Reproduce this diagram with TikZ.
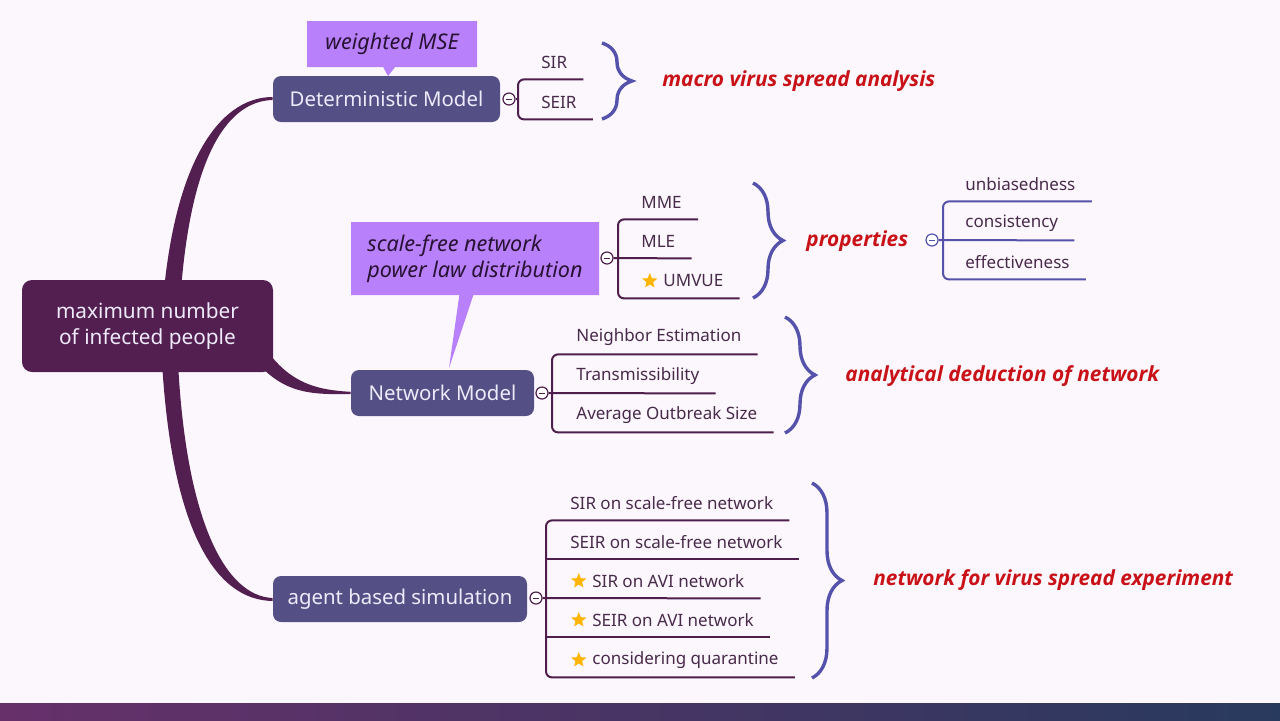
\documentclass[tikz,border=0pt]{standalone}
\usepackage{fontspec}
\setmainfont{Noto Sans}
\newfontfamily\sumfont{Open Sans}
\usetikzlibrary{positioning,shapes.geometric,shapes.callouts,decorations.pathreplacing}

\definecolor{bgc}{RGB}{252,247,253}
\definecolor{rootc}{RGB}{82,31,80}
\definecolor{topicc}{RGB}{84,80,134}
\definecolor{nodetext}{RGB}{238,234,250}
\definecolor{notec}{RGB}{184,128,250}
\definecolor{notetext}{RGB}{40,18,52}
\definecolor{itemtext}{RGB}{72,42,74}
\definecolor{linec}{RGB}{78,30,76}
\definecolor{bracec}{RGB}{84,82,170}
\definecolor{redc}{RGB}{200,18,24}
\definecolor{starc}{RGB}{255,180,0}
\definecolor{bandl}{RGB}{103,48,107}
\definecolor{bandr}{RGB}{40,58,94}

\begin{document}
\begin{tikzpicture}[x=0.5pt,y=-0.5pt,
    root/.style = {fill=rootc, rounded corners=5pt, text=nodetext, align=center,
        minimum width=125.5pt, minimum height=46pt, font=\fontsize{10.4}{13}\selectfont},
    topic/.style = {fill=topicc, rounded corners=4pt, text=nodetext,
        minimum height=23pt, font=\fontsize{10.2}{12}\selectfont},
    note/.style = {rectangle callout, fill=notec, text=notetext, align=left,
        font=\fontsize{10.8}{13}\selectfont\itshape},
    item/.style = {anchor=west, text=itemtext, inner xsep=0pt, inner ysep=0pt,
        minimum height=17pt, font=\fontsize{8.5}{10}\selectfont},
    summary/.style = {anchor=west, text=redc, inner sep=0pt,
        font=\sumfont\fontsize{10.4}{12}\selectfont\bfseries\itshape},
    fold/.style = {circle, draw=#1, fill=white, line width=0.6pt, minimum size=6pt, inner sep=0pt,
        path picture={\draw[#1, line width=0.5pt] ([xshift=1.3pt]path picture bounding box.west)
            -- ([xshift=-1.3pt]path picture bounding box.east);}},
    fold/.default = linec,
    leaf/.style = {draw=#1, line width=1pt, rounded corners=3pt},
    leaf/.default = linec,
    gold/.style = {star, star points=5, star point ratio=2.3, fill=starc,
        minimum size=8pt, inner sep=0pt},
    bracket/.style = {draw=bracec, line width=1.7pt, decorate,
        decoration={brace, amplitude=15pt}}]

    % page
    \useasboundingbox (0,0) rectangle (1280,720);
    \fill[bgc] (0,0) rectangle (1280,703);
    \shade[left color=bandl, right color=bandr] (0,703) rectangle (1280,720);

    % main topics
    \node[root] (mx) at (147.5,326) {maximum number\\of infected people};
    \node[topic, minimum width=113.5pt] (det) at (386.5,99) {Deterministic Model};
    \node[topic, minimum width=91.5pt] (net) at (442.5,393) {Network Model};
    \node[topic, minimum width=127pt] (abs) at (400,599) {agent based simulation};

    \fill[rootc] (164,290) .. controls (178,150) and (225,97) .. ([yshift=1pt]det.west)
        -- ([yshift=-0.5pt]det.west) .. controls (230,101) and (192,150) .. (181,290) -- cycle;
    \fill[rootc] (162,362) .. controls (172,530) and (215,600) .. ([yshift=-1pt]abs.west)
        -- ([yshift=0.5pt]abs.west) .. controls (225,596) and (186,520) .. (178,362) -- cycle;
    \fill[rootc] (255,360) .. controls (285,396) and (315,394) .. ([yshift=-0.6pt]net.west)
        -- ([yshift=0.6pt]net.west) .. controls (318,390) and (292,384) .. (268,352) -- cycle;

    % notes
    \node[note, minimum width=85pt, minimum height=23pt, callout pointer width=6pt,
        callout absolute pointer={(388,76)}] (n1) at (392,44) {weighted MSE};
    \node[note, minimum width=124pt, minimum height=36.5pt, callout pointer width=7pt,
        callout absolute pointer={(449,368)}] (n2) at (475,258.5)
        {scale-free network\\power law distribution};

    % deterministic model
    \node[fold] (df) at (509,99) {};
    \coordinate (dv) at (518,99);
    \node[item] (d1) at (541,62) {SIR};
    \node[item] (d2) at (541,102) {SEIR};
    \draw[leaf] (df) -- (dv);
    \draw[leaf] ([xshift=8pt]d1.south east) -- (d1.south -| dv) |- ([xshift=8pt]d2.south east);
    \draw[bracket] (602,43) -- (602,119);
    \node[summary] (s1) at (662,81) {macro virus spread analysis};

    % estimators
    \node[fold] (ef) at (607,258) {};
    \coordinate (ev) at (618,258);
    \node[item] (e1) at (641,202) {MME};
    \node[item] (e2) at (641,241) {MLE};
    \node[item] (e3) at (663,281) {UMVUE};
    \node[gold, left=4pt of e3] (g1) {};
    \draw[leaf] ([xshift=8pt]e1.south east) -- (e1.south -| ev) |- ([xshift=8pt]e3.south east);
    \draw[leaf] (ef) -- ([xshift=8pt]e2.south east);
    \draw[bracket] (753,183) -- (753,298);
    \node[summary] (s2) at (806,241) {properties};

    % properties
    \node[fold=bracec] (pf) at (932,240) {};
    \coordinate (pv) at (943,240);
    \node[item] (p1) at (965,184) {unbiasedness};
    \node[item] (p2) at (965,223) {consistency};
    \node[item] (p3) at (965,262) {effectiveness};
    \draw[leaf=bracec] ([xshift=8pt]p1.south east) -- (p1.south -| pv) |- ([xshift=8pt]p3.south east);
    \draw[leaf=bracec] (pf) -- ([xshift=8pt]p2.south east);

    % network model
    \node[fold] (nf) at (542,393) {};
    \coordinate (nv) at (552,393);
    \node[item] (m1) at (576,337) {Neighbor Estimation};
    \node[item] (m2) at (576,376) {Transmissibility};
    \node[item] (m3) at (576,415) {Average Outbreak Size};
    \draw[leaf] ([xshift=8pt]m1.south east) -- (m1.south -| nv) |- ([xshift=8pt]m3.south east);
    \draw[leaf] (nf) -- ([xshift=8pt]m2.south east);
    \draw[bracket] (785,317) -- (785,433);
    \node[summary] (s3) at (845,376) {analytical deduction of network};

    % simulation
    \node[fold] (af) at (536,598) {};
    \coordinate (av) at (546,598);
    \node[item] (a1) at (570,503) {SIR on scale-free network};
    \node[item] (a2) at (570,542) {SEIR on scale-free network};
    \node[item] (a3) at (592,581) {SIR on AVI network};
    \node[item] (a4) at (592,620) {SEIR on AVI network};
    \node[item] (a5) at (592,660) {considering quarantine};
    \node[gold, left=4pt of a3] (g2) {};
    \node[gold, left=4pt of a4] (g3) {};
    \node[gold, left=4pt of a5] (g4) {};
    \draw[leaf] ([xshift=8pt]a1.south east) -- (a1.south -| av) |- ([xshift=8pt]a5.south east);
    \draw[leaf] (a2.south -| av) -- ([xshift=8pt]a2.south east);
    \draw[leaf] (af) -- ([xshift=8pt]a3.south east);
    \draw[leaf] (a4.south -| av) -- ([xshift=8pt]a4.south east);
    \draw[bracket] (812,483) -- (812,678);
    \node[summary] (s4) at (873,580) {network for virus spread experiment};

\end{tikzpicture}
\end{document}
